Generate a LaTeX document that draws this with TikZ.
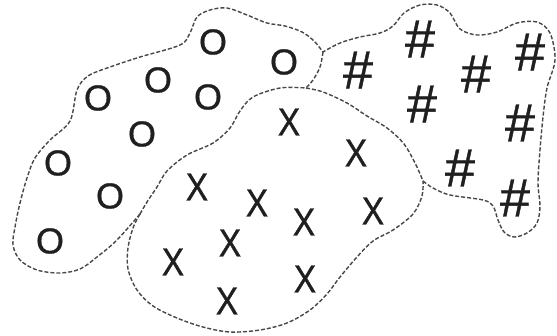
\documentclass[tikz,border=0pt]{standalone}
\usepackage{fontspec}
\setmainfont{Liberation Sans}
\newfontface\symface[FakeBold=0.8]{Liberation Sans}
\usepackage{tikz}
\usetikzlibrary{calc}

\tikzset{
  border/.style={draw=black!72, line width=1.4pt, dash pattern=on 4pt off 2pt},
  osym/.style={inner sep=0pt, font=\symface\fontsize{36}{36}\selectfont, text=black!88},
  xsym/.style={inner sep=0pt, font=\symface\fontsize{39}{39}\selectfont, text=black!88, xscale=.86, transform shape},
  hsym/.style={inner sep=0pt, font=\symface\fontsize{54}{54}\selectfont, text=black!88}
}

\begin{document}
\begin{tikzpicture}[x=1pt, y=-1pt]
			\useasboundingbox (0,0) rectangle (557,336);
			
			% junctions where the regions meet
			\coordinate (jox) at (140,214);
			\coordinate (jmid) at (306,88);
			\coordinate (joh) at (323,52);
			\coordinate (jxh) at (423,181);
			
			% outer border of the O region
			\draw[border] plot[smooth, tension=.55] coordinates {(jox) (117,240) (97,257) (80,269) (60,273) (37,270) (20,260) (13,245) (15,227) (20,203) (27,178) (35,158) (50,140) (70,121) (77,90) (88,76) (110,67) (140,57) (180,45) (190,33) (197,17) (210,10) (227,8) (247,15) (267,23) (285,26) (302,32) (314,41) (joh)};
			% border between O and X
			\draw[border] plot[smooth, tension=.55] coordinates {(jox) (147,202) (157,187) (167,171) (187,155) (213,143) (230,128) (240,111) (253,97) (280,88) (jmid)};
			% border between O and #
			\draw[border] plot[smooth, tension=.55] coordinates {(joh) (320,67) (313,80) (jmid)};
			% border between X and #
			\draw[border] plot[smooth, tension=.55] coordinates {(jmid) (323,92) (347,103) (367,116) (387,128) (404,144) (416,165) (jxh)};
			% outer border of the X region
			\draw[border] plot[smooth, tension=.55] coordinates {(jox) (133,228) (128,248) (128,269) (137,290) (153,306) (177,318) (203,327) (230,332) (260,330) (287,323) (310,310) (327,294) (340,277) (357,257) (373,241) (393,230) (413,214) (422,196) (jxh)};
			% outer border of the # region
			\draw[border] plot[smooth, tension=.55] coordinates {(jxh) (433,188) (450,195) (483,200) (493,206) (498,220) (504,232) (514,237) (527,233) (537,223) (540,206) (538,183) (540,150) (543,117) (547,88) (555,60) (550,33) (537,22) (517,23) (497,32) (477,35) (460,29) (450,13) (437,5) (420,5) (404,13) (393,26) (380,33) (360,37) (340,43) (joh)};
			
			% O region
			\node[osym] (o1) at (213,42) {O};
			\node[osym] (o2) at (284,62) {O};
			\node[osym] (o3) at (158,80) {O};
			\node[osym] (o4) at (98,98) {O};
			\node[osym] (o5) at (208,97) {O};
			\node[osym] (o6) at (142,134) {O};
			\node[osym] (o7) at (58,163) {O};
			\node[osym] (o8) at (110,196) {O};
			\node[osym] (o9) at (50,241) {O};
			
			% X region
			\node[xsym] (x1) at (289,122) {X};
			\node[xsym] (x2) at (356,153) {X};
			\node[xsym] (x3) at (197,187) {X};
			\node[xsym] (x4) at (257,203) {X};
			\node[xsym] (x5) at (373,211) {X};
			\node[xsym] (x6) at (304,222) {X};
			\node[xsym] (x7) at (230,243) {X};
			\node[xsym] (x8) at (173,262) {X};
			\node[xsym] (x9) at (305,279) {X};
			\node[xsym] (x10) at (227,301) {X};
			
			% # region
			\node[hsym] (h1) at (420,39) {\#};
			\node[hsym] (h2) at (358,70) {\#};
			\node[hsym] (h3) at (530,52) {\#};
			\node[hsym] (h4) at (476,74) {\#};
			\node[hsym] (h5) at (422,104) {\#};
			\node[hsym] (h6) at (520,123) {\#};
			\node[hsym] (h7) at (460,168) {\#};
			\node[hsym] (h8) at (515,198) {\#};
		\end{tikzpicture}
\end{document}
